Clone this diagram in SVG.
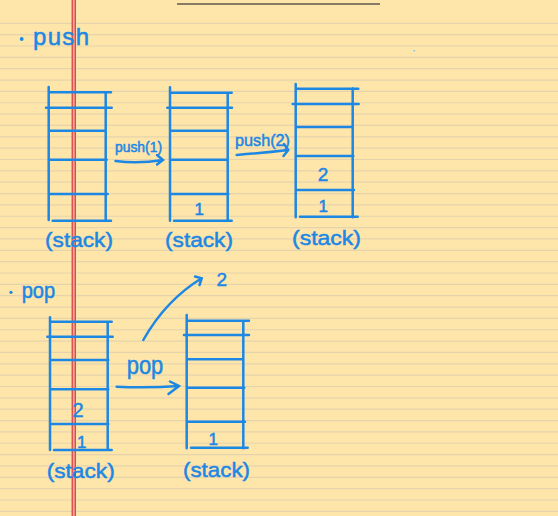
<svg xmlns="http://www.w3.org/2000/svg" width="558" height="516" viewBox="0 0 558 516">
<style>
.ln{stroke:#1D87E4;stroke-width:2.5;stroke-linecap:round;fill:none}
.tx{fill:#1D87E4;stroke:#1D87E4;stroke-width:0.5;font-family:"Liberation Sans","DejaVu Sans",sans-serif}
.lab{font-size:21px}
.num{font-size:17px}
</style>
<rect width="558" height="516" fill="#FEE5AA"/>
<path d="M0 23.3H558M0 34.65H558M0 46H558M0 57.35H558M0 68.7H558M0 80.05H558M0 91.4H558M0 102.75H558M0 114.1H558M0 125.45H558M0 136.8H558M0 148.15H558M0 159.5H558M0 170.85H558M0 182.2H558M0 193.55H558M0 204.9H558M0 216.25H558M0 227.6H558M0 238.95H558M0 250.3H558M0 261.65H558M0 273H558M0 284.35H558M0 295.7H558M0 307.05H558M0 318.4H558M0 329.75H558M0 341.1H558M0 352.45H558M0 363.8H558M0 375.15H558M0 386.5H558M0 397.85H558M0 409.2H558M0 420.55H558M0 431.9H558M0 443.25H558M0 454.6H558M0 465.95H558M0 477.3H558M0 488.65H558M0 500H558M0 511.35H558" stroke="#E5D3AE" stroke-width="1.2"/>
<rect x="72" y="0" width="3.4" height="516" fill="#EFA79C"/>
<line x1="72.2" y1="0" x2="72.2" y2="516" stroke="#D83E3E" stroke-width="1.2"/>
<line x1="75.3" y1="0" x2="75.3" y2="516" stroke="#D83E3E" stroke-width="1.2"/>
<line x1="177" y1="4" x2="380" y2="4" stroke="#5E574E" stroke-width="1.6"/>
<circle cx="414.3" cy="50.7" r="0.8" fill="#6AAFE8"/>

<g id="title-push">
<circle cx="21.7" cy="39" r="1.9" fill="#1D87E4"/>
<text class="tx" x="33" y="45" font-size="24" stroke-width="0.2" textLength="56" lengthAdjust="spacing">push</text>
</g>

<g id="stack1">
<path class="ln" d="M48.7 87V220M105.7 92.7V220M48.7 92.3H111M46 107.7H111.7M48.7 130.7H105.7M48.7 159.7H106.7M48.7 194H107.7M52.7 220.7H111"/>
<text class="tx lab" x="45" y="247" textLength="68" lengthAdjust="spacingAndGlyphs">(stack)</text>
</g>

<g id="stack2">
<path class="ln" d="M170 87.3V220.7M227.7 92.7V220.7M170 92.7H231.7M167.3 107.7H232M170 130.7H227.7M170 159.7H226.7M170 194H228.3M174 220.7H231.7"/>
<text class="tx num" x="199.3" y="215" text-anchor="middle">1</text>
<text class="tx lab" x="165" y="247" textLength="68" lengthAdjust="spacingAndGlyphs">(stack)</text>
</g>

<g id="stack3">
<path class="ln" d="M295.7 84V217.3M352.7 88.3V217.3M295.7 88.7H358.3M292.7 104H358.7M295.7 127H352.7M295.7 156H353.3M295.7 190H354M300 216.7H357.7"/>
<text class="tx" x="323" y="180.5" font-size="19" text-anchor="middle">2</text>
<text class="tx num" x="323.3" y="211.7" text-anchor="middle">1</text>
<text class="tx lab" x="292" y="245" textLength="69" lengthAdjust="spacingAndGlyphs">(stack)</text>
</g>

<g id="title-pop">
<circle cx="11" cy="292.3" r="1.6" fill="#1D87E4"/>
<text class="tx" x="21.7" y="298" font-size="22" textLength="33.5" lengthAdjust="spacingAndGlyphs">pop</text>
</g>

<g id="stack4">
<path class="ln" d="M50 317.3V450M107.7 321.7V450M50 321.7H111.7M47.3 336.7H112.7M50 360H108.3M50 389.3H108.3M50 424H108.3M54 450H111.7"/>
<text class="tx" x="78" y="417" font-size="20" text-anchor="middle">2</text>
<text class="tx num" x="81.7" y="448" text-anchor="middle">1</text>
<text class="tx lab" x="46.7" y="478" textLength="68" lengthAdjust="spacingAndGlyphs">(stack)</text>
</g>

<g id="stack5">
<path class="ln" d="M186.7 315V448.3M243.3 320.7V448.3M186.7 320.7H249M184 335H249M186.7 359.3H243.3M186.7 387.7H244.3M186.7 421.7H245M191 447.7H247.7"/>
<text class="tx num" x="213.3" y="445" text-anchor="middle">1</text>
<text class="tx lab" x="183" y="477" textLength="67" lengthAdjust="spacingAndGlyphs">(stack)</text>
</g>

<g id="popped">
<text class="tx" x="221.7" y="286" font-size="19" text-anchor="middle">2</text>
</g>

<g id="connectors">
<path class="ln" d="M115.5 161Q138 164 163 160M157 155L163 160L157 164.5"/>
<text class="tx" x="115" y="152" font-size="14" textLength="47" lengthAdjust="spacingAndGlyphs">push(1)</text>
<path class="ln" d="M236.7 155Q262 153 288.3 150M284 144L288.3 150L283.5 156"/>
<text class="tx" x="235" y="146" font-size="17" textLength="55" lengthAdjust="spacingAndGlyphs">push(2)</text>
<path class="ln" d="M116.7 386.7Q148 388 179 386M170 381.5L179 386L168.5 394"/>
<text class="tx" x="126.7" y="374" font-size="25" textLength="36.6" lengthAdjust="spacingAndGlyphs">pop</text>
<path class="ln" d="M143.3 340Q166 300 201.7 278.3M195 276.5L201.7 278.3L199.5 285"/>
</g>
</svg>
